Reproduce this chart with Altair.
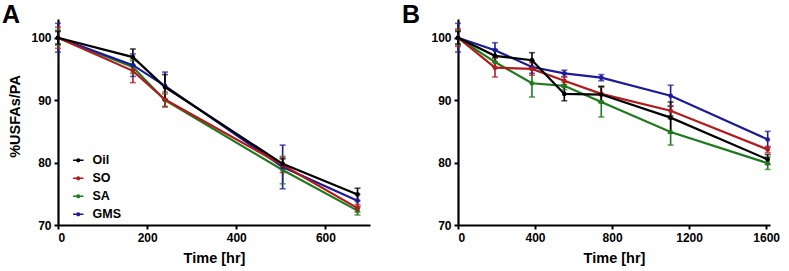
import altair as alt
import pandas as pd

series = ["Oil", "SO", "SA", "GMS"]
colors = ["#000000", "#b31b1b", "#1d7a1d", "#1b1b9c"]
draw_order = ["SA", "GMS", "SO", "Oil"]

# Panel A
time_a = [0, 168, 240, 504, 672]
mean_a = {
    "Oil": [100.0, 96.9, 92.1, 79.8, 74.9],
    "SO":  [100.0, 94.7, 90.1, 79.6, 72.7],
    "SA":  [100.0, 95.3, 90.0, 78.8, 72.3],
    "GMS": [100.0, 95.6, 92.3, 79.3, 73.9],
}
err_a = {
    "Oil": [1.0, 1.3, 2.0, 0.8, 1.0],
    "SO":  [1.7, 1.9, 1.2, 1.2, 0.6],
    "SA":  [1.2, 1.0, 1.0, 2.2, 0.7],
    "GMS": [2.3, 1.8, 2.2, 3.5, 1.0],
}

# Panel B
time_b = [0, 192, 384, 552, 744, 1104, 1608]
mean_b = {
    "Oil": [100.0, 97.1, 96.4, 91.0, 90.9, 87.2, 80.5],
    "SO":  [100.0, 95.2, 95.0, 93.1, 91.0, 88.3, 82.1],
    "SA":  [100.0, 96.1, 92.7, 92.3, 89.7, 84.9, 79.9],
    "GMS": [100.0, 98.0, 95.3, 94.3, 93.6, 90.7, 83.7],
}
err_b = {
    "Oil": [1.0, 1.0, 1.2, 1.1, 1.3, 2.5, 0.8],
    "SO":  [1.4, 1.5, 1.0, 0.6, 1.2, 0.8, 0.5],
    "SA":  [1.2, 0.8, 2.2, 0.6, 2.4, 2.1, 1.0],
    "GMS": [2.3, 1.2, 1.0, 0.5, 0.5, 1.7, 1.3],
}

FONT = "Liberation Sans"


def make_df(times, means, errs):
    rows = []
    for s in draw_order:
        for t, m, e in zip(times, means[s], errs[s]):
            rows.append({"time": t, "value": m, "lo": m - e, "hi": m + e, "series": s})
    return pd.DataFrame(rows)


def panel(df, xmax, xticks, letter, show_legend, show_ytitle):
    color_scale = alt.Scale(domain=series, range=colors)
    nolegend = alt.Color("series:N", scale=color_scale, legend=None)

    x = alt.X("time:Q", scale=alt.Scale(domain=[0, xmax], nice=False),
              axis=alt.Axis(values=xticks, title="Time [hr]", format="d"))
    if show_ytitle:
        yaxis = alt.Axis(values=[70, 80, 90, 100], title="%USFAs/PA", titleY=97)
    else:
        yaxis = alt.Axis(values=[70, 80, 90, 100], title=None)
    y = alt.Y("value:Q", scale=alt.Scale(domain=[70, 103], nice=False, zero=False),
              axis=yaxis)

    base = alt.Chart(df)
    layers = []
    if show_legend:
        legend = alt.Legend(
            title=None, orient="none", legendX=14, legendY=135,
            labelFont=FONT, labelFontSize=12.5, labelFontWeight="bold",
            labelColor="#000", rowPadding=5, symbolOpacity=1,
            symbolType="M-1,-0.13L1,-0.13L1,0.13L-1,0.13Z M-0.4,0A0.4,0.4 0 1,1 0.4,0A0.4,0.4 0 1,1 -0.4,0Z",
            symbolSize=110, symbolStrokeWidth=0, labelOffset=8,
        )
        key = base.mark_point(filled=True, opacity=1, size=22).encode(
            x=x, y=y, color=alt.Color("series:N", scale=color_scale, legend=legend)
        ).transform_filter("datum.time < 0")
        layers.append(key)
    line = base.mark_line(strokeWidth=2.2).encode(x=x, y=y, color=nolegend,
                                                  order=alt.Order("time:Q"))
    rule = base.mark_rule(strokeWidth=1.6).encode(
        x=x, y=alt.Y("lo:Q"), y2="hi:Q", color=nolegend)
    cap_lo = base.mark_tick(orient="horizontal", size=6, thickness=1.6).encode(
        x="time:Q", y="lo:Q", color=nolegend)
    cap_hi = base.mark_tick(orient="horizontal", size=6, thickness=1.6).encode(
        x="time:Q", y="hi:Q", color=nolegend)
    pts = base.mark_point(filled=True, size=22, opacity=1).encode(
        x="time:Q", y="value:Q", color=nolegend)
    lab = alt.Chart(pd.DataFrame({"t": [letter]})).mark_text(
        font=FONT, fontSize=25, fontWeight="bold", align="left",
        baseline="top", color="#000").encode(
        text="t:N", x=alt.value(-56), y=alt.value(-16))
    layers += [rule, cap_lo, cap_hi, line, pts, lab]
    return alt.layer(*layers).properties(width=312, height=206)


pa = panel(make_df(time_a, mean_a, err_a), 700, [0, 200, 400, 600], "A", True, True)
pb = panel(make_df(time_b, mean_b, err_b), 1620, [0, 400, 800, 1200, 1600], "B", False, False)

chart = alt.hconcat(pa, pb, spacing=32).resolve_scale(color="independent").properties(
    padding={"left": 2, "top": 3, "right": 4, "bottom": 4}
).configure_view(stroke=None).configure_axis(
    grid=False, domainColor="#000", domainWidth=2.2, tickColor="#000",
    tickWidth=2, tickSize=4, labelFont=FONT, labelFontSize=12,
    labelFontWeight="bold", labelColor="#000", labelPadding=3,
    titleFont=FONT, titleFontSize=14.5, titleFontWeight="bold", titleColor="#000",
).configure_axisX(titlePadding=8).configure_axisY(titlePadding=8)

chart.save("out.html", embed_options={"renderer": "svg", "actions": False})
